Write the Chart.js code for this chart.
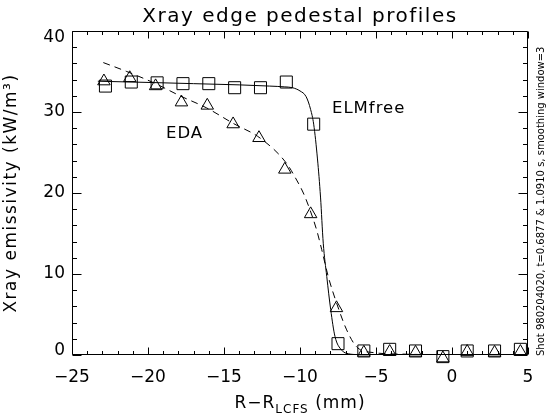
<!DOCTYPE html>
<html><head><meta charset="utf-8">
<script src="https://cdn.jsdelivr.net/npm/chart.js@4.4.1/dist/chart.umd.min.js"></script>
<style>html,body{margin:0;padding:0;background:#fff;}canvas{display:block;}</style>
</head><body>
<canvas id="c" width="547" height="416"></canvas>
<script>
// ---- data ----
const xTicks = [-25, -20, -15, -10, -5, 0, 5];
const yTicks = [0, 10, 20, 30, 40];

// ELMfree measured points (squares)
const elmR = [-22.8, -21.1, -19.4, -17.7, -16.0, -14.3, -12.6, -10.9, -9.1, -7.5, -5.8, -4.1, -2.4, -0.6, 1.0, 2.8, 4.5];
const elmE = [33.2, 33.7, 33.6, 33.5, 33.5, 33.0, 33.0, 33.7, 28.5, 1.4, 0.5, 0.7, 0.5, -0.2, 0.5, 0.5, 0.7];

// EDA measured points (triangles)
const edaR = [-22.9, -21.2, -19.5, -17.8, -16.1, -14.4, -12.7, -11.0, -9.3, -7.6, -5.8, -4.1, -2.4, -0.6, 1.0, 2.8, 4.5];
const edaE = [33.8, 34.2, 33.2, 31.2, 30.8, 28.5, 26.8, 22.9, 17.4, 5.8, 0.3, 0.4, 0.3, -0.4, 0.4, 0.3, 0.4];

// ELMfree fit curve (solid)
const elmFitR = [-23.3, -20, -17, -14, -12, -11, -10.5, -10, -9.6, -9.3, -9.1, -8.85, -8.65, -8.47, -8.24, -7.98, -7.7, -7.26, -6.8, -6.2, -5, 0, 5];
const elmFitE = [33.8, 33.65, 33.5, 33.35, 33.2, 33.1, 33.0, 32.6, 31.9, 30.3, 28.5, 24.2, 19.5, 13.8, 9.7, 5.6, 2.3, 0.6, 0.15, 0.05, 0, 0, 0];

// EDA fit curve (dashed)
const edaFitR = [-22.94, -21.4, -19.5, -17.9, -16.14, -14.4, -12.6, -10.9, -10.22, -9.78, -9.34, -8.9, -8.57, -8.14, -7.59, -6.93, -6.27, -5.18, -3.0, 0, 5];
const edaFitE = [36.1, 35.0, 33.5, 32.0, 30.5, 28.6, 26.75, 23.7, 21.6, 20.0, 17.9, 15.4, 13.0, 9.67, 6.4, 3.1, 1.0, 0.3, 0.1, 0, 0];

const titleText = 'Xray edge pedestal profiles';
const yTitle = 'Xray emissivity (kW/m\u00B3)';
const xTitleMain = 'R\u2212R';
const xTitleSub = 'LCFS';
const xTitleEnd = ' (mm)';
const labelEDA = 'EDA';
const labelELM = 'ELMfree';
const sideNote = 'Shot 980204020, t=0.6877 & 1.0910 s, smoothing window=3';

const FONT = '"DejaVu Sans", sans-serif';
const pts = (xs, ys) => xs.map((v, i) => ({x: v, y: ys[i]}));

function drawText(ctx, s, x, y, size, align, spacing, rot, baseline) {
  ctx.save();
  ctx.translate(x, y);
  if (rot) ctx.rotate(rot);
  ctx.font = size + 'px ' + FONT;
  ctx.fillStyle = '#000';
  ctx.textAlign = align;
  ctx.textBaseline = baseline || 'alphabetic';
  if ('letterSpacing' in ctx) ctx.letterSpacing = spacing + 'px';
  ctx.fillText(s, 0, 0);
  ctx.restore();
}

const decor = {
  id: 'decor',
  afterDraw(chart) {
    const {ctx, chartArea: ca, scales: {x, y}} = chart;
    const L = Math.round(ca.left) + 0.5, R = Math.round(ca.right) - 0.5;
    const T = Math.round(ca.top) + 0.5, B = Math.round(ca.bottom) - 0.5;
    ctx.save();
    ctx.strokeStyle = '#000';
    ctx.lineWidth = 1;
    ctx.beginPath();
    ctx.rect(L, T, R - L, B - T);
    // x ticks (inward, top and bottom)
    for (let v = x.min; v <= x.max + 1e-9; v += 1) {
      const px = Math.round(x.getPixelForValue(v)) + 0.5;
      const len = (Math.round(v) % 5 === 0) ? 7 : 3.5;
      ctx.moveTo(px, B); ctx.lineTo(px, B - len);
      ctx.moveTo(px, T); ctx.lineTo(px, T + len);
    }
    for (let v = y.min; v <= y.max + 1e-9; v += 2) {
      const py = Math.round(y.getPixelForValue(v)) + 0.5;
      const len = (Math.round(v) % 10 === 0) ? 9 : 4.5;
      ctx.moveTo(L, py); ctx.lineTo(L + len, py);
      ctx.moveTo(R, py); ctx.lineTo(R - len, py);
    }
    ctx.stroke();
    ctx.restore();

    // y tick labels (end labels kept inside the axis span, as in the reference)
    y.ticks.forEach(t => {
      let py = y.getPixelForValue(t.value);
      if (t.value === y.max) py += 7;
      else if (t.value === y.min) py -= 4;
      drawText(ctx, String(t.value), ca.left - 7, py, 17, 'right', 0, 0, 'middle');
    });

    const cx = (ca.left + ca.right) / 2;
    drawText(ctx, titleText, cx, 22, 20, 'center', 1.5, 0);
    // y title
    drawText(ctx, yTitle, 16, (ca.top + ca.bottom) / 2, 17, 'center', 1.5, -Math.PI / 2);
    // x title with subscript
    ctx.save();
    ctx.font = '17px ' + FONT;
    if ('letterSpacing' in ctx) ctx.letterSpacing = '1px';
    const w1 = ctx.measureText(xTitleMain).width;
    const w3 = ctx.measureText(xTitleEnd).width;
    ctx.font = '12px ' + FONT;
    const w2 = ctx.measureText(xTitleSub).width;
    ctx.restore();
    const start = cx - (w1 + w2 + w3) / 2;
    drawText(ctx, xTitleMain, start, 408, 17, 'left', 1, 0);
    drawText(ctx, xTitleSub, start + w1, 413, 12, 'left', 1, 0);
    drawText(ctx, xTitleEnd, start + w1 + w2, 408, 17, 'left', 1, 0);
    // annotations
    drawText(ctx, labelEDA, 166, 138, 16.5, 'left', 1, 0);
    drawText(ctx, labelELM, 332, 113, 16.5, 'left', 1, 0);
    // side note
    drawText(ctx, sideNote, 544, 356, 10, 'left', 0, -Math.PI / 2);
  }
};

new Chart(document.getElementById('c'), {
  type: 'line',
  data: {
    datasets: [
      {data: pts(elmFitR, elmFitE), borderColor: '#000', borderWidth: 1, pointRadius: 0, cubicInterpolationMode: 'monotone', fill: false},
      {data: pts(edaFitR, edaFitE), borderColor: '#000', borderWidth: 1, borderDash: [7, 5], pointRadius: 0, cubicInterpolationMode: 'monotone', fill: false},
      {data: pts(elmR, elmE), showLine: false, pointStyle: 'rect', pointRadius: 8.5, pointBorderColor: '#000', pointBackgroundColor: 'rgba(0,0,0,0)', pointBorderWidth: 1, clip: false},
      {data: pts(edaR, edaE), showLine: false, pointStyle: 'triangle', pointRadius: 7.2, pointBorderColor: '#000', pointBackgroundColor: 'rgba(0,0,0,0)', pointBorderWidth: 1, clip: false}
    ]
  },
  options: {
    responsive: false,
    devicePixelRatio: 1,
    animation: false,
    events: [],
    layout: {padding: {top: 31, right: 19, left: 0, bottom: 0}},
    plugins: {legend: {display: false}, tooltip: {enabled: false}, title: {display: false}},
    scales: {
      x: {
        type: 'linear', position: 'bottom', min: -25, max: 5,
        afterBuildTicks: s => { s.ticks = xTicks.map(v => ({value: v})); },
        afterFit: s => { s.height = 61; },
        grid: {display: false, drawTicks: false},
        border: {display: false},
        ticks: {
          padding: 12, color: '#000', font: {family: FONT, size: 17},
          callback: v => (v < 0 ? '\u2212' : '') + Math.abs(v)
        }
      },
      y: {
        type: 'linear', position: 'left', min: 0, max: 40,
        afterBuildTicks: s => { s.ticks = yTicks.map(v => ({value: v})); },
        afterFit: s => { s.width = 72; },
        grid: {display: false, drawTicks: false},
        border: {display: false},
        ticks: {display: false}
      }
    }
  },
  plugins: [decor]
});
</script>
</body></html>
